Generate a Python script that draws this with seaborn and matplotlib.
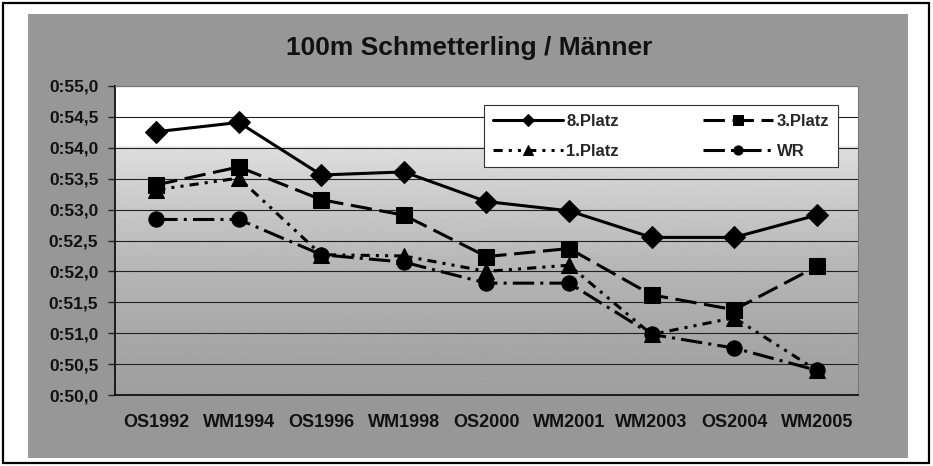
import numpy as np
import pandas as pd
import matplotlib
matplotlib.use("Agg")
import matplotlib.pyplot as plt
from matplotlib.patches import Rectangle
from matplotlib.ticker import FuncFormatter, MultipleLocator
import seaborn as sns

# ---- data (seconds) ----
categories = ["OS1992", "WM1994", "OS1996", "WM1998", "OS2000",
              "WM2001", "WM2003", "OS2004", "WM2005"]
platz8 = [54.26, 54.41, 53.56, 53.61, 53.13, 52.98, 52.55, 52.55, 52.91]
platz3 = [53.40, 53.69, 53.16, 52.91, 52.24, 52.37, 51.62, 51.38, 52.08]
platz1 = [53.32, 53.51, 52.27, 52.25, 52.00, 52.10, 50.98, 51.25, 50.40]
wr = [52.84, 52.84, 52.27, 52.15, 51.81, 51.81, 50.98, 50.76, 50.40]
series_names = ["8.Platz", "3.Platz", "1.Platz", "WR"]
title = "100m Schmetterling / Männer"

df = pd.concat([
    pd.DataFrame({"Wettkampf": categories, "Zeit": vals, "Serie": name})
    for name, vals in zip(series_names, [platz8, platz3, platz1, wr])
], ignore_index=True)

sns.set_theme(style="white")
plt.rcParams["font.family"] = ["Liberation Sans", "DejaVu Sans"]

W, H = 933, 466
fig = plt.figure(figsize=(W / 100, H / 100), dpi=100)
fig.patch.set_facecolor("white")

# outer frame and grey chart area
fig.add_artist(Rectangle((3 / W, 1 - 463 / H), 926 / W, 460 / H,
                         transform=fig.transFigure, fill=False,
                         edgecolor="black", lw=1.6, zorder=0))
fig.add_artist(Rectangle((28 / W, 1 - 458 / H), 880 / W, 444 / H,
                         transform=fig.transFigure, facecolor="#979797",
                         edgecolor="none", zorder=0))

ax = fig.add_axes([115 / W, 1 - 395 / H, 743 / W, 309 / H])
ax.set_zorder(1)

# gradient plot background
yy = np.linspace(55, 50, 300)
shade = np.interp(yy, [50, 51, 52, 53, 54.0, 54.05, 55],
                  [0.62, 0.66, 0.71, 0.78, 0.87, 1.0, 1.0])
ax.imshow(shade[:, None], extent=[-0.5, 8.5, 50, 55], aspect="auto",
          cmap="gray", vmin=0, vmax=1, zorder=0, interpolation="bilinear")

markers = {"8.Platz": "D", "3.Platz": "s", "1.Platz": "^", "WR": "o"}
dashes = {"8.Platz": "", "3.Platz": (7, 2.5), "1.Platz": (3, 2, 1, 2, 1, 2),
          "WR": (7, 2, 1, 2)}
palette = {k: "black" for k in series_names}

sns.lineplot(data=df, x="Wettkampf", y="Zeit", hue="Serie", style="Serie",
             hue_order=series_names, style_order=series_names,
             palette=palette, markers=markers, dashes=dashes, sort=False,
             lw=2.2, markersize=11, markeredgecolor="black", legend=False,
             ax=ax, zorder=3)

ax.set_xlim(-0.5, 8.5)
ax.set_ylim(50, 55)
ax.yaxis.set_major_locator(MultipleLocator(0.5))
ax.yaxis.set_major_formatter(FuncFormatter(lambda v, p: f"0:{v:.1f}".replace(".", ",")))
ax.grid(axis="y", color="#222222", lw=0.8)
ax.grid(axis="x", visible=False)
ax.set_axisbelow(True)
ax.set_xlabel("")
ax.set_ylabel("")

for side in ["left", "bottom"]:
    ax.spines[side].set_color("#111111")
    ax.spines[side].set_linewidth(1.3)
for side in ["right", "top"]:
    ax.spines[side].set_color("#777777")
    ax.spines[side].set_linewidth(0.8)

ax.tick_params(axis="y", left=True, length=5, width=1, color="#222222",
               pad=7, labelsize=12.5, labelcolor="#111111")
ax.tick_params(axis="x", bottom=False, length=0, pad=14, labelsize=13,
               labelcolor="#111111")
for lab in ax.get_xticklabels() + ax.get_yticklabels():
    lab.set_fontweight("bold")

fig.text(469 / W, 1 - 48 / H, title, ha="center", va="center",
         fontsize=19, fontweight="bold", color="#111111")

# legend: row-major order 8, 3 / 1, WR
lines = ax.lines[-4:] if len(ax.lines) >= 4 else ax.lines
hmap = dict(zip(series_names, lines))
order = ["8.Platz", "1.Platz", "3.Platz", "WR"]
leg = ax.legend([hmap[k] for k in order], order, ncol=2, loc="upper left",
                bbox_to_anchor=(0.486, 0.748, 0.498, 0.216), mode="expand",
                frameon=True, fancybox=False, framealpha=1, edgecolor="#333333",
                facecolor="white", borderpad=0.5, labelspacing=0.9,
                handlelength=4.2, handletextpad=0.2, columnspacing=2.5,
                markerscale=0.6, prop={"weight": "bold", "size": 12})
leg.get_frame().set_linewidth(0.8)
leg.set_zorder(5)

fig.savefig("out.png", dpi=100)
